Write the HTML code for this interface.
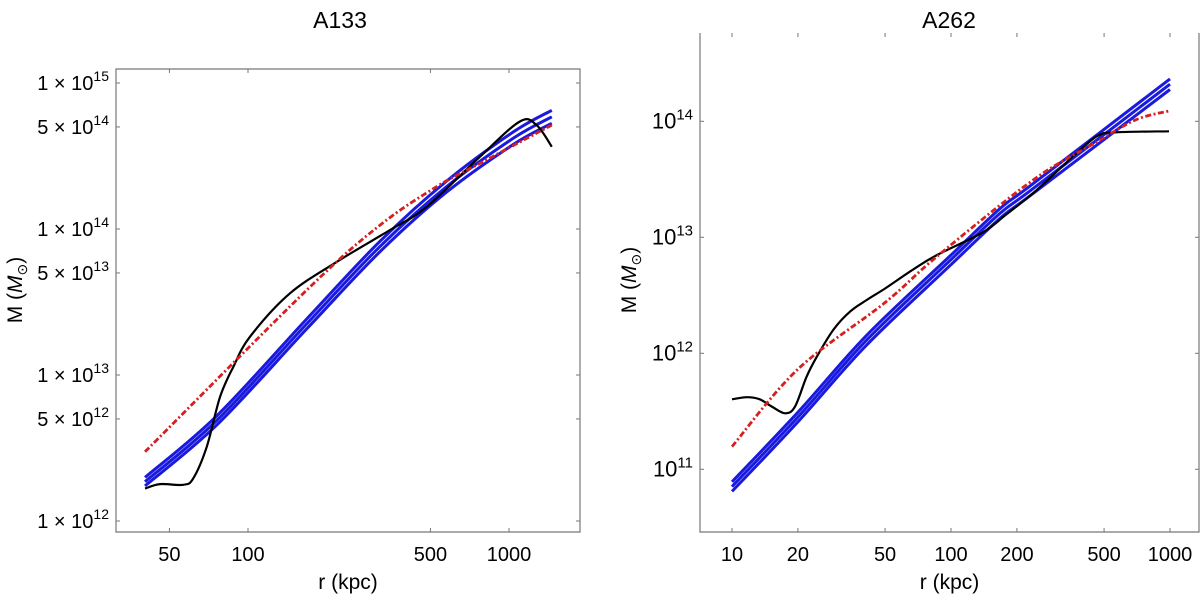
<!DOCTYPE html>
<html><head><meta charset="utf-8"><style>
body{margin:0;background:#fff;width:1200px;height:600px;overflow:hidden;font-family:"Liberation Sans",Arial,sans-serif}
svg text{font-family:"Liberation Sans",Arial,sans-serif;fill:#000}
</style></head><body>
<svg id="chart" width="1200" height="600" viewBox="0 0 1200 600" xmlns="http://www.w3.org/2000/svg"></svg>
<script>
// ---- A133 data ----
const a133BlackR = [40.3,46,56.5,61.7,69.5,78.2,87.9,101.8,144.9,225,350,484,774,1101,1276,1459];
const a133BlackM = [1.67e12,1.79e12,1.77e12,1.96e12,3.23e12,7.10e12,1.14e13,1.83e13,3.63e13,6.14e13,9.84e13,1.42e14,3.13e14,5.45e14,5.15e14,3.66e14];
const a133BlueR = [40.3,75.9,167.9,320.6,576.6,1038,1459];
const a133BlueMid = [1.86e12,4.88e12,2.24e13,7.6e13,1.95e14,4.18e14,5.87e14];
const a133BlueUp = [1.99e12,5.25e12,2.42e13,8.25e13,2.13e14,4.62e14,6.5e14];
const a133BlueLo = [1.74e12,4.54e12,2.07e13,7.0e13,1.79e14,3.79e14,5.3e14];
const a133RedR = [40.3,168,320,528,774,1459];
const a133RedM = [2.98e12,3.82e13,1.06e14,1.95e14,2.82e14,5.15e14];
const a133XTicks = [50,100,500,1000];
const a133XTickLabels = ["50","100","500","1000"];
const a133YTicks = [1e12,5e12,1e13,5e13,1e14,5e14,1e15];
const a133YTickLabels = [["1 × 10","12"],["5 × 10","12"],["1 × 10","13"],["5 × 10","13"],["1 × 10","14"],["5 × 10","14"],["1 × 10","15"]];
// ---- A262 data ----
const a262BlackR = [10,11.7,13.4,15.2,17.5,19.4,21.9,24.4,29.0,34.6,41.2,50,67.6,86.1,139.6,177.8,245.5,366.4,466.7,570.2,990];
const a262BlackM = [4.01e11,4.18e11,4.01e11,3.47e11,3.04e11,3.47e11,6.28e11,9.35e11,1.59e12,2.29e12,2.88e12,3.62e12,5.32e12,7.03e12,1.10e13,1.56e13,2.54e13,5.11e13,7.48e13,8.04e13,8.2e13];
const a262BlueR = [10,20,41.2,99,167.6,237,1000];
const a262BlueMid = [7.1e10,2.82e11,1.30e12,6.3e12,1.61e13,2.63e13,2.09e14];
const a262BlueUp = [7.8e10,3.1e11,1.43e12,6.9e12,1.77e13,2.9e13,2.32e14];
const a262BlueLo = [6.45e10,2.56e11,1.18e12,5.7e12,1.46e13,2.39e13,1.88e14];
const a262RedR = [10,20,50,86,237,467,698,990];
const a262RedM = [1.57e11,7.3e11,2.74e12,6.8e12,3.12e13,6.7e13,1.03e14,1.23e14];
const a262XTicks = [10,20,50,100,200,500,1000];
const a262XTickLabels = ["10","20","50","100","200","500","1000"];
const a262YTicks = [1e11,1e12,1e13,1e14];
const a262YTickLabels = ["11","12","13","14"];

const NS="http://www.w3.org/2000/svg";
const svg=document.getElementById('chart');
function mk(tag,attrs,parent){const e=document.createElementNS(NS,tag);for(const k in attrs)e.setAttribute(k,attrs[k]);(parent||svg).appendChild(e);return e;}

function smoothPath(pts){
  let d='M'+pts[0][0].toFixed(1)+' '+pts[0][1].toFixed(1);
  for(let i=0;i<pts.length-1;i++){
    const p0=pts[i-1]||pts[i],p1=pts[i],p2=pts[i+1],p3=pts[i+2]||pts[i+1];
    const c1x=p1[0]+(p2[0]-p0[0])/6,c1y=p1[1]+(p2[1]-p0[1])/6;
    const c2x=p2[0]-(p3[0]-p1[0])/6,c2y=p2[1]-(p3[1]-p1[1])/6;
    d+=` C${c1x.toFixed(1)} ${c1y.toFixed(1)} ${c2x.toFixed(1)} ${c2y.toFixed(1)} ${p2[0].toFixed(1)} ${p2[1].toFixed(1)}`;
  }
  return d;
}

function panel(cfg){
  const g=mk('g',{});
  
  
  const X=r=>cfg.x0+cfg.xd*Math.log10(r/cfg.xr0);
  const Y=m=>cfg.y0-cfg.yd*Math.log10(m/cfg.ym0);
  const fd=cfg.noTop?`M${cfg.L} ${cfg.T} L${cfg.L} ${cfg.B} L${cfg.R} ${cfg.B} L${cfg.R} ${cfg.T}`:
    `M${cfg.L} ${cfg.T} L${cfg.L} ${cfg.B} L${cfg.R} ${cfg.B} L${cfg.R} ${cfg.T} Z`;
  const fr=mk('path',{d:fd,fill:'none',stroke:'#777','stroke-width':1.2},g);
  
  
  cfg.xt.forEach((v,i)=>{
    const x=X(v);
    mk('line',{x1:x,x2:x,y1:cfg.B,y2:cfg.B-4,stroke:'#777'},g);
    mk('line',{x1:x,x2:x,y1:cfg.T,y2:cfg.T+4,stroke:'#777'},g);
    const t=mk('text',{x:x,y:cfg.B+29,'text-anchor':'middle','font-size':20},g);
    t.textContent=cfg.xl[i];
    
    
  });
  cfg.yt.forEach((v,i)=>{
    const y=Y(v);
    mk('line',{x1:cfg.L,x2:cfg.L+4,y1:y,y2:y,stroke:'#777'},g);
    mk('line',{x1:cfg.R,x2:cfg.R-4,y1:y,y2:y,stroke:'#777'},g);
    const t=mk('text',{x:cfg.L-7,y:y+7,'text-anchor':'end','font-size':cfg.sci?20:22},g);
    
    
    if(cfg.sci){
      const a=mk('tspan',{},t);a.textContent=cfg.yl[i][0];
      const b=mk('tspan',{dy:-9,'font-size':14},t);b.textContent=cfg.yl[i][1];
    } else {
      const a=mk('tspan',{},t);a.textContent='10';
      const b=mk('tspan',{dy:-9,'font-size':15},t);b.textContent=cfg.yl[i];
    }
  });
  function line(rs,ms,attrs,name){
    const pts=rs.map((r,i)=>[X(r),Y(ms[i])]);
    const p=mk('path',Object.assign({d:smoothPath(pts),fill:'none','stroke-linejoin':'round'},attrs),g);
    
    
  }
  line(cfg.bR,cfg.bUp,{stroke:'#1a1adf','stroke-width':3},'blue-fit-upper');
  line(cfg.bR,cfg.bMid,{stroke:'#1a1adf','stroke-width':3},'blue-fit-mid');
  line(cfg.bR,cfg.bLo,{stroke:'#1a1adf','stroke-width':3},'blue-fit-lower');
  line(cfg.kR,cfg.kM,{stroke:'#000','stroke-width':2.2},'black-mass-profile');
  line(cfg.rR,cfg.rM,{stroke:'#d42020','stroke-width':2.8,'stroke-dasharray':'6,2.5,2,2.5'},'red-dashdot-fit');
  const ti=mk('text',{x:cfg.tx,y:28,'text-anchor':'middle','font-size':23},g);
  ti.textContent=cfg.title;
  
  
  const xt=mk('text',{x:(cfg.L+cfg.R)/2,y:589,'text-anchor':'middle','font-size':21},g);
  xt.textContent='r (kpc)';
  
  
  const yt=mk('text',{transform:`translate(${cfg.yx},${cfg.yy}) rotate(-90)`,'text-anchor':'middle','font-size':21},g);
  
  
  const s1=mk('tspan',{},yt);s1.textContent='M (';
  const s2=mk('tspan',{'font-style':'italic'},yt);s2.textContent='M';
  const s3=mk('tspan',{dy:5,'font-size':14},yt);s3.textContent='⊙';
  const s4=mk('tspan',{dy:-5},yt);s4.textContent=')';
}

panel({name:'panel-a133',L:116,R:580,T:69,B:532,x0:248,xd:261,xr0:100,y0:375,yd:146,ym0:1e13,
  xt:a133XTicks,xl:a133XTickLabels,yt:a133YTicks,yl:a133YTickLabels,sci:true,
  bR:a133BlueR,bMid:a133BlueMid,bUp:a133BlueUp,bLo:a133BlueLo,kR:a133BlackR,kM:a133BlackM,rR:a133RedR,rM:a133RedM,
  title:'A133',tx:340,yx:22,yy:290});
panel({name:'panel-a262',L:700,R:1199,T:33,B:532,noTop:true,x0:951,xd:219,xr0:100,y0:353.3,yd:116,ym0:1e12,
  xt:a262XTicks,xl:a262XTickLabels,yt:a262YTicks,yl:a262YTickLabels,sci:false,
  bR:a262BlueR,bMid:a262BlueMid,bUp:a262BlueUp,bLo:a262BlueLo,kR:a262BlackR,kM:a262BlackM,rR:a262RedR,rM:a262RedM,
  title:'A262',tx:949,yx:636,yy:280});
</script>
</body></html>
